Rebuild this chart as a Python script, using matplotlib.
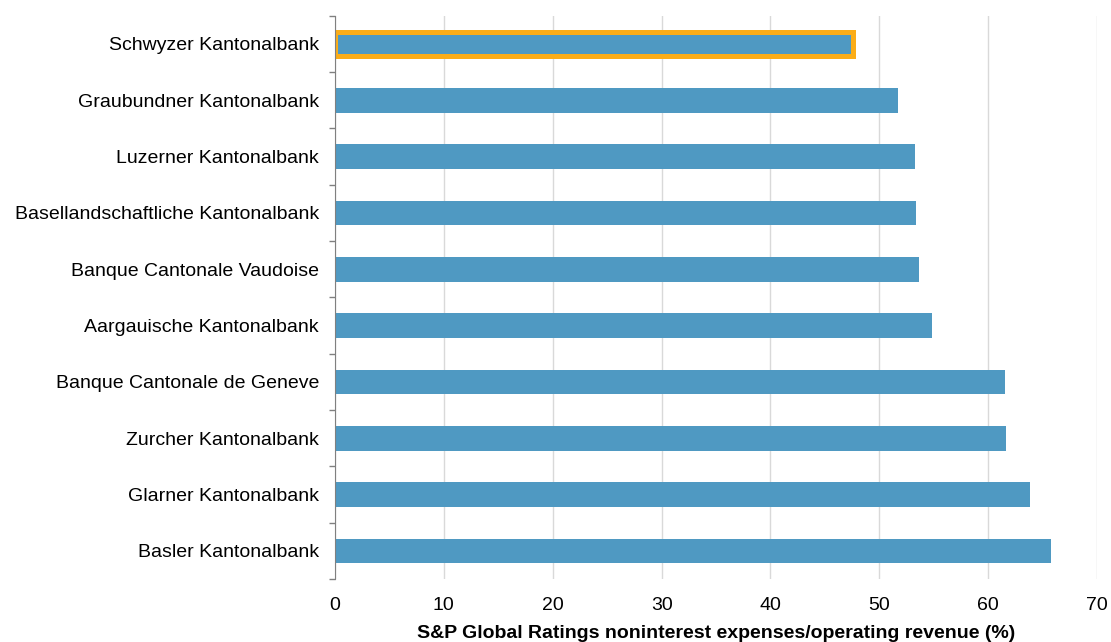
import numpy as np
import matplotlib
matplotlib.use("Agg")
import matplotlib.pyplot as plt

plt.rcParams['font.family'] = ['Liberation Sans', 'DejaVu Sans']

banks = ["Schwyzer Kantonalbank", "Graubundner Kantonalbank", "Luzerner Kantonalbank",
         "Basellandschaftliche Kantonalbank", "Banque Cantonale Vaudoise",
         "Aargauische Kantonalbank", "Banque Cantonale de Geneve", "Zurcher Kantonalbank",
         "Glarner Kantonalbank", "Basler Kantonalbank"]
ratios = [47.6, 51.75, 53.3, 53.4, 53.6, 54.8, 61.5, 61.6, 63.8, 65.8]
highlight = "Schwyzer Kantonalbank"

blue = "#4f99c2"
orange = "#fbad18"

fig = plt.figure(figsize=(11.11, 6.42), dpi=100)
ax = fig.add_axes([0.3015, 0.098, 0.686, 0.8775])

y = np.arange(len(banks))
bars = ax.barh(y, ratios, height=0.44, color=blue, zorder=3)
for b, name in zip(bars, banks):
    if name == highlight:
        b.set_edgecolor(orange)
        b.set_linewidth(3.6)

ax.set_ylim(len(banks) - 0.5, -0.5)
ax.set_xlim(0, 70)
ax.set_xticks(np.arange(0, 71, 10))
ax.set_yticks(y)
ax.set_yticklabels(banks, fontsize=14)
ax.set_yticks(np.arange(-0.5, len(banks), 1), minor=True)
ax.tick_params(axis='y', which='major', length=0, pad=11.5)
ax.tick_params(axis='y', which='minor', length=4, color="#808080", width=1)
ax.tick_params(axis='x', length=0, pad=13, labelsize=14)

ax.grid(axis='x', color="#d9d9d9", linewidth=1, zorder=0)
for s in ['top', 'right', 'bottom']:
    ax.spines[s].set_visible(False)
ax.spines['left'].set_color("#808080")
ax.spines['left'].set_zorder(4)

ax.set_xlabel("S&P Global Ratings noninterest expenses/operating revenue (%)",
              fontsize=14, fontweight='bold', labelpad=8)

fig.savefig("out.png", dpi=100)
